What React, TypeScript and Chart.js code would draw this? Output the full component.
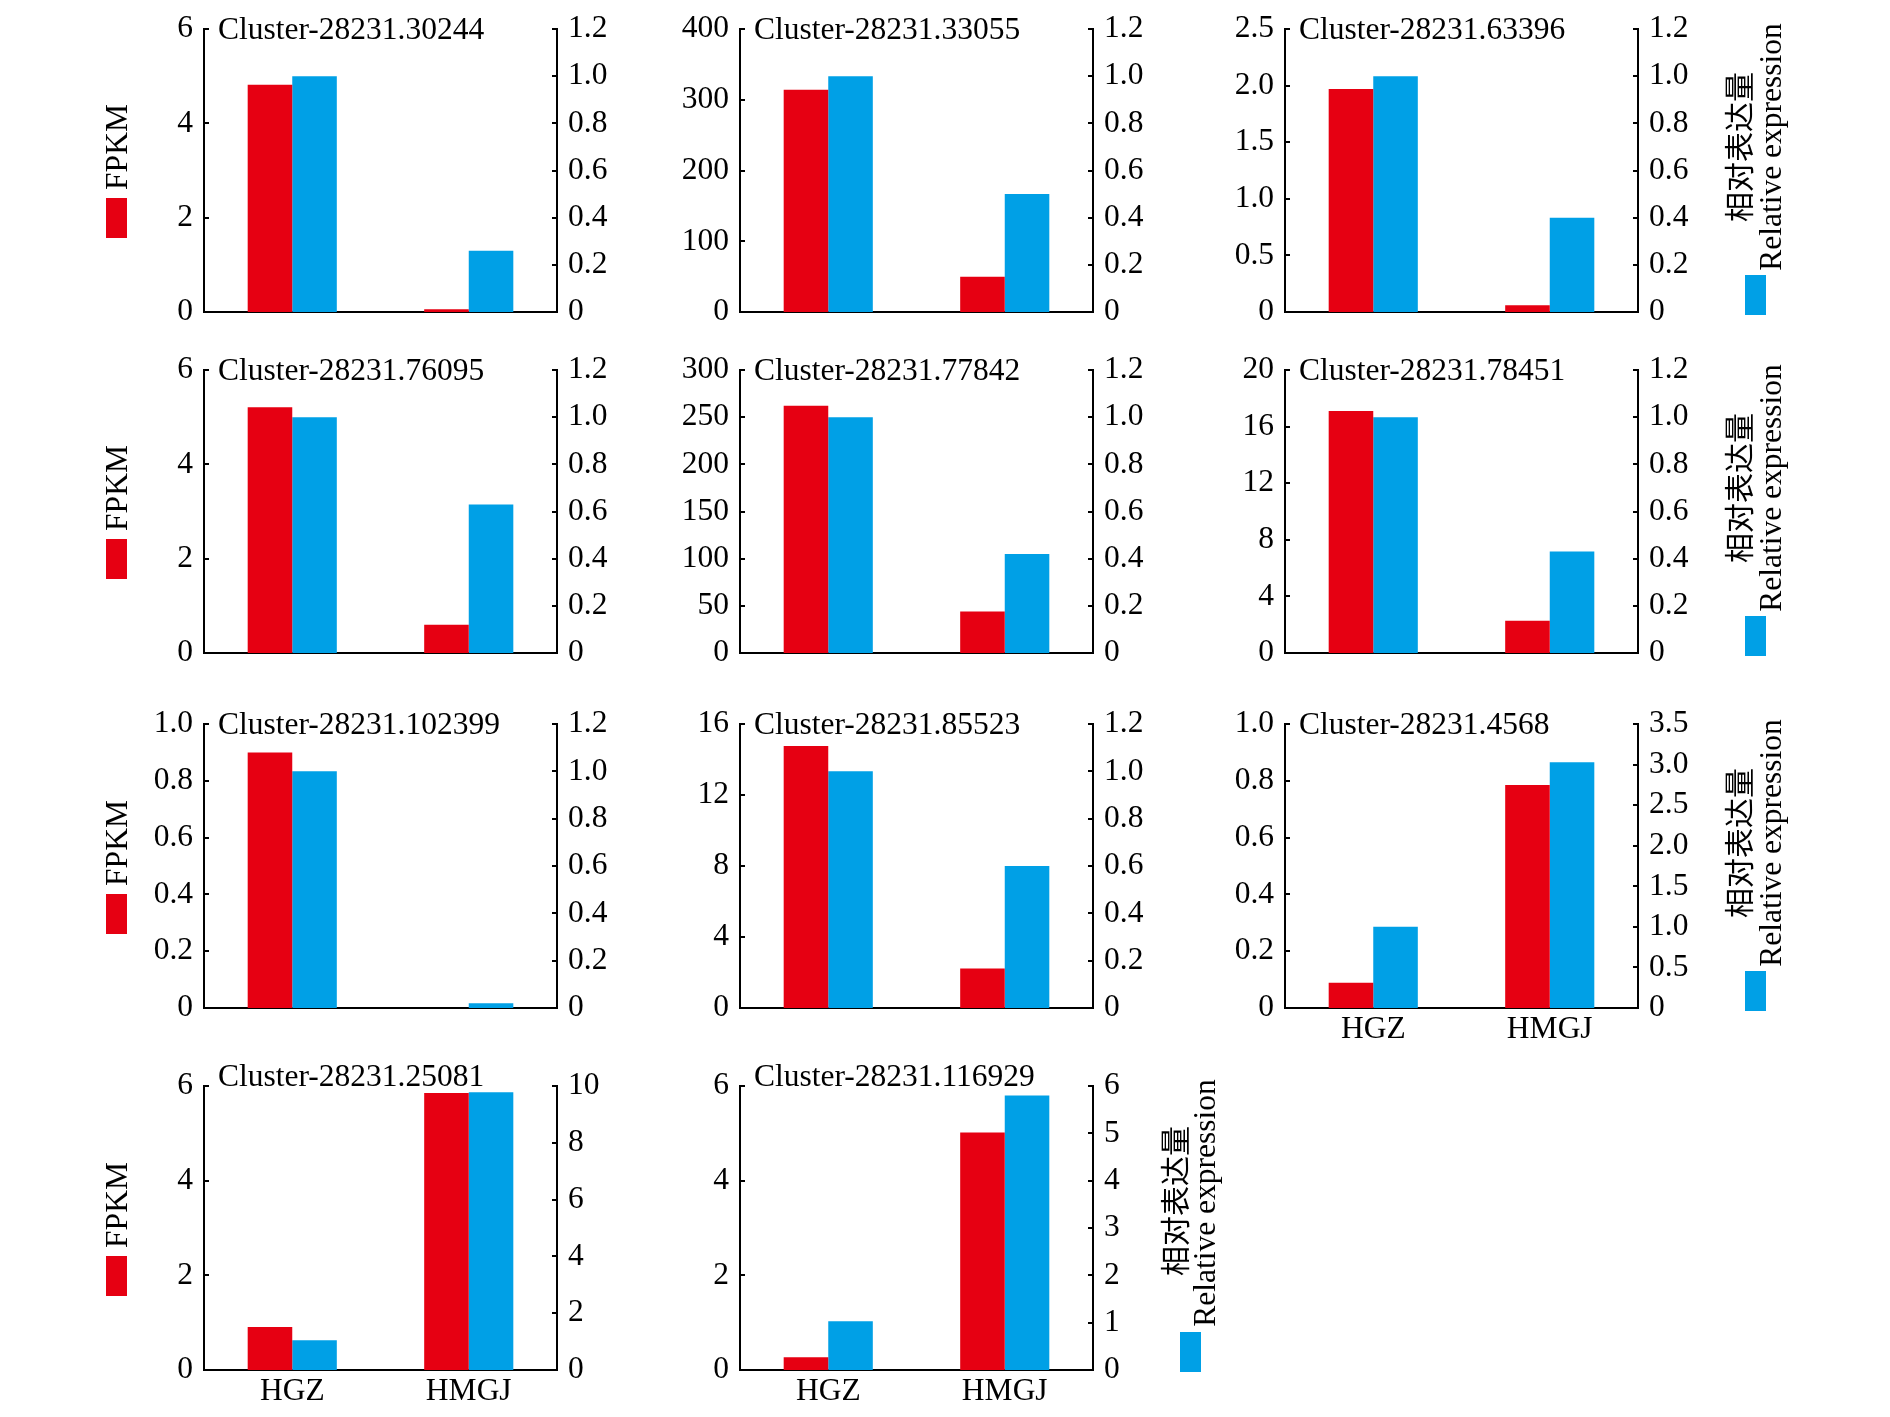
import React, { useEffect, useRef } from "react";
import { Chart, registerables } from "chart.js";

Chart.register(...registerables);

const CATEGORIES = ["HGZ", "HMGJ"];

const TITLES = [
  "Cluster-28231.30244",
  "Cluster-28231.33055",
  "Cluster-28231.63396",
  "Cluster-28231.76095",
  "Cluster-28231.77842",
  "Cluster-28231.78451",
  "Cluster-28231.102399",
  "Cluster-28231.85523",
  "Cluster-28231.4568",
  "Cluster-28231.25081",
  "Cluster-28231.116929",
];

const FPKM_HGZ = [4.82, 314, 1.97, 5.21, 262, 17.1, 0.9, 14.76, 0.089, 0.91, 0.27];
const FPKM_HMGJ = [0.06, 50, 0.06, 0.6, 44, 2.28, 0, 2.23, 0.785, 5.85, 5.02];
const REL_HGZ = [1.0, 1.0, 1.0, 1.0, 1.0, 1.0, 1.0, 1.0, 1.0, 1.05, 1.03];
const REL_HMGJ = [0.26, 0.5, 0.4, 0.63, 0.42, 0.43, 0.02, 0.6, 3.03, 9.78, 5.8];

const LEFT_TICKS = [
  ["0", "2", "4", "6"],
  ["0", "100", "200", "300", "400"],
  ["0", "0.5", "1.0", "1.5", "2.0", "2.5"],
  ["0", "2", "4", "6"],
  ["0", "50", "100", "150", "200", "250", "300"],
  ["0", "4", "8", "12", "16", "20"],
  ["0", "0.2", "0.4", "0.6", "0.8", "1.0"],
  ["0", "4", "8", "12", "16"],
  ["0", "0.2", "0.4", "0.6", "0.8", "1.0"],
  ["0", "2", "4", "6"],
  ["0", "2", "4", "6"],
];

const REL_TICKS_12 = ["0", "0.2", "0.4", "0.6", "0.8", "1.0", "1.2"];
const RIGHT_TICKS = [
  REL_TICKS_12,
  REL_TICKS_12,
  REL_TICKS_12,
  REL_TICKS_12,
  REL_TICKS_12,
  REL_TICKS_12,
  REL_TICKS_12,
  REL_TICKS_12,
  ["0", "0.5", "1.0", "1.5", "2.0", "2.5", "3.0", "3.5"],
  ["0", "2", "4", "6", "8", "10"],
  ["0", "1", "2", "3", "4", "5", "6"],
];

const SHOW_X_LABELS = [false, false, false, false, false, false, false, false, true, true, true];

const LEFT_LEGEND = "FPKM";
const RIGHT_LEGEND_CN = "相对表达量";
const RIGHT_LEGEND_EN = "Relative expression";

const RED = "#E60012";
const BLUE = "#00A0E6";
const SERIF = '"Liberation Serif", "Times New Roman", serif';
const CJK = '"Noto Sans CJK SC", "Liberation Serif", serif';
const FS = 31.5;
const TICK_FS = 31.5;

const COL_LEFT = [204, 740, 1285];
const ROW_TOP = [29, 370, 724, 1086];
const ROW_BOTTOM = [312, 653, 1008, 1370];
const PLOT_W = 353;
const PAD_L = 100;
const PAD_R = 100;
const PAD_T = 40;
const PAD_B = 70;

const inwardTicks = {
  id: "inwardTicks",
  afterDraw(chart: any) {
    const ctx = chart.ctx;
    const area = chart.chartArea;
    ctx.save();
    ctx.strokeStyle = "#000";
    ctx.lineWidth = 2;
    ["y", "y1"].forEach((id) => {
      const s = chart.scales[id];
      const x = id === "y" ? area.left : area.right;
      const dir = id === "y" ? 1 : -1;
      s.ticks.forEach((t: any) => {
        const py = Math.round(s.getPixelForValue(t.value));
        ctx.beginPath();
        ctx.moveTo(x, py);
        ctx.lineTo(x + dir * 5, py);
        ctx.stroke();
      });
    });
    ctx.restore();
  },
};

function ClusterChart({ index }: { index: number }) {
  const ref = useRef<HTMLCanvasElement | null>(null);
  const row = Math.floor(index / 3);
  const col = index % 3;
  const plotH = ROW_BOTTOM[row] - ROW_TOP[row];
  const width = PAD_L + PLOT_W + PAD_R;
  const height = PAD_T + plotH + PAD_B;

  useEffect(() => {
    if (!ref.current) return;
    const leftLabels = LEFT_TICKS[index];
    const rightLabels = RIGHT_TICKS[index];
    const leftVals = leftLabels.map((v) => parseFloat(v));
    const rightVals = rightLabels.map((v) => parseFloat(v));
    const font = { family: SERIF, size: TICK_FS };
    const chart = new Chart(ref.current, {
      type: "bar",
      data: {
        labels: CATEGORIES,
        datasets: [
          {
            data: [FPKM_HGZ[index], FPKM_HMGJ[index]],
            backgroundColor: RED,
            yAxisID: "y",
            categoryPercentage: 0.505,
            barPercentage: 1,
          },
          {
            data: [REL_HGZ[index], REL_HMGJ[index]],
            backgroundColor: BLUE,
            yAxisID: "y1",
            categoryPercentage: 0.505,
            barPercentage: 1,
          },
        ],
      },
      options: {
        animation: false,
        responsive: false,
        devicePixelRatio: 1,
        layout: { padding: { top: PAD_T, left: 0, right: 0, bottom: 0 } },
        plugins: { legend: { display: false }, tooltip: { enabled: false } },
        scales: {
          x: {
            grid: { display: false, drawTicks: false },
            border: { display: true, color: "#000", width: 2 },
            ticks: {
              display: SHOW_X_LABELS[index],
              font,
              color: "#000",
              padding: 3,
              maxRotation: 0,
              autoSkip: false,
            },
            afterFit: (s: any) => {
              s.height = PAD_B;
            },
          },
          y: {
            position: "left",
            min: leftVals[0],
            max: leftVals[leftVals.length - 1],
            afterBuildTicks: (s: any) => {
              s.ticks = leftVals.map((v) => ({ value: v }));
            },
            ticks: {
              callback: (_v: any, i: number) => leftLabels[i],
              font,
              color: "#000",
              padding: 11,
              autoSkip: false,
            },
            grid: { display: false, drawTicks: false },
            border: { display: true, color: "#000", width: 2 },
            afterFit: (s: any) => {
              s.width = PAD_L;
            },
          },
          y1: {
            position: "right",
            min: rightVals[0],
            max: rightVals[rightVals.length - 1],
            afterBuildTicks: (s: any) => {
              s.ticks = rightVals.map((v) => ({ value: v }));
            },
            ticks: {
              callback: (_v: any, i: number) => rightLabels[i],
              font,
              color: "#000",
              padding: 11,
              autoSkip: false,
            },
            grid: { display: false, drawTicks: false },
            border: { display: true, color: "#000", width: 2 },
            afterFit: (s: any) => {
              s.width = PAD_R;
            },
          },
        },
      } as any,
      plugins: [inwardTicks],
    });
    return () => chart.destroy();
  }, [index]);

  return (
    <canvas
      ref={ref}
      width={width}
      height={height}
      style={{
        position: "absolute",
        left: COL_LEFT[col] - PAD_L,
        top: ROW_TOP[row] - PAD_T,
        width,
        height,
      }}
    />
  );
}

function RotText({ text, cx, cy, family, size }: { text: string; cx: number; cy: number; family: string; size: number }) {
  return (
    <div
      style={{
        position: "absolute",
        left: cx,
        top: cy,
        transform: "translate(-50%, -50%) rotate(-90deg)",
        whiteSpace: "nowrap",
        fontFamily: family,
        fontSize: size,
        lineHeight: 1,
        color: "#000",
      }}
    >
      {text}
    </div>
  );
}

function Rect({ x, y, w, h, color }: { x: number; y: number; w: number; h: number; color: string }) {
  return <div style={{ position: "absolute", left: x, top: y, width: w, height: h, background: color }} />;
}

export default function App() {
  const rightLegends = [
    { cnX: 1737, enX: 1771, rectX: 1745, cnDy: -165, enDy: -165, rectDy: -37, row: 0 },
    { cnX: 1737, enX: 1771, rectX: 1745, cnDy: -165, enDy: -165, rectDy: -37, row: 1 },
    { cnX: 1737, enX: 1771, rectX: 1745, cnDy: -165, enDy: -165, rectDy: -37, row: 2 },
    { cnX: 1173, enX: 1205, rectX: 1180, cnDy: -169, enDy: -167, rectDy: -38, row: 3 },
  ];
  return (
    <div
      style={{
        position: "absolute",
        left: 0,
        top: 0,
        width: 1890,
        height: 1417,
        background: "#fff",
        overflow: "hidden",
      }}
    >
      {TITLES.map((_, i) => (
        <ClusterChart key={i} index={i} />
      ))}
      {TITLES.map((t, i) => {
        const row = Math.floor(i / 3);
        const col = i % 3;
        return (
          <div
            key={"t" + i}
            style={{
              position: "absolute",
              left: COL_LEFT[col] + 14,
              top: ROW_TOP[row] - (row === 3 ? 26 : 16),
              fontFamily: SERIF,
              fontSize: FS,
              lineHeight: "32px",
              whiteSpace: "nowrap",
              color: "#000",
            }}
          >
            {t}
          </div>
        );
      })}
      {ROW_BOTTOM.map((b, r) => (
        <React.Fragment key={"l" + r}>
          <RotText text={LEFT_LEGEND} cx={116.5} cy={b - 165} family={SERIF} size={FS} />
          <Rect x={106} y={b - 114} w={21} h={40} color={RED} />
        </React.Fragment>
      ))}
      {rightLegends.map((l) => {
        const b = ROW_BOTTOM[l.row];
        return (
          <React.Fragment key={"r" + l.row}>
            <RotText text={RIGHT_LEGEND_CN} cx={l.cnX} cy={b + l.cnDy} family={CJK} size={30} />
            <RotText text={RIGHT_LEGEND_EN} cx={l.enX} cy={b + l.enDy} family={SERIF} size={FS} />
            <Rect x={l.rectX} y={b + l.rectDy} w={21} h={40} color={BLUE} />
          </React.Fragment>
        );
      })}
    </div>
  );
}
